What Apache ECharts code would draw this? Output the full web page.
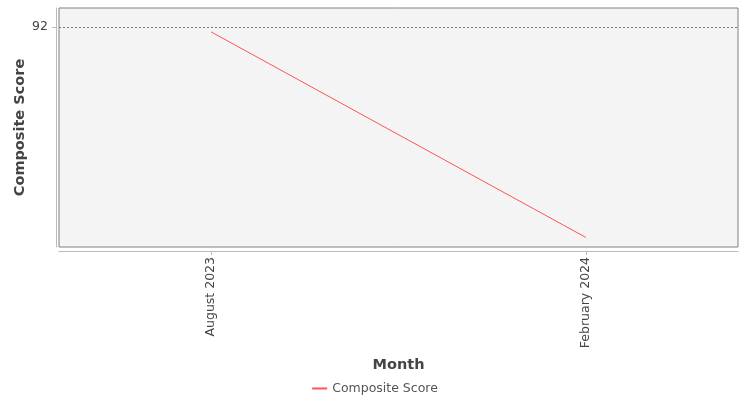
<!DOCTYPE html>
<html><head><meta charset="utf-8">
<script src="https://cdn.jsdelivr.net/npm/echarts@6/dist/echarts.min.js"></script>
<style>html,body{margin:0;padding:0;background:#fff}#c{width:750px;height:400px}</style>
</head><body><div id="c"></div>
<script>
const months = ["August 2023", "February 2024"];
const compositeScore = [91.98, 91.12];
const yTicks = [92];

const chart = echarts.init(document.getElementById('c'), null, {renderer: 'canvas'});
const font = "'DejaVu Sans', sans-serif";
chart.setOption({
  animation: false,
  textStyle: {fontFamily: font},
  grid: {left: 59, right: 12, top: 8, bottom: 153, show: true, backgroundColor: '#f4f4f4', borderColor: '#808080', borderWidth: 1, containLabel: false, outerBoundsMode: 'none'},
  legend: {bottom: 0, left: 'center', itemWidth: 15, itemHeight: 2, icon: 'rect', itemGap: 5,
    textStyle: {color: '#555', fontSize: 12.5, fontFamily: font}, data: ['Composite Score']},
  xAxis: {
    type: 'value', min: -0.406, max: 1.406, offset: 4,
    name: 'Month', nameLocation: 'middle', nameGap: 107,
    nameTextStyle: {fontSize: 14.5, fontWeight: 'bold', color: '#444', fontFamily: font},
    axisLine: {show: true, onZero: false, lineStyle: {color: '#bbb'}},
    axisTick: {show: true, length: 4, lineStyle: {color: '#bbb'}, customValues: [0, 1]},
    axisLabel: {customValues: [0, 1], rotate: 90, color: '#444', fontSize: 12.5, margin: 6, fontFamily: font,
      formatter: v => months[Math.round(v)] || ''},
    splitLine: {show: false}
  },
  yAxis: {
    type: 'value', min: 91.08, max: 92.08, offset: 3,
    name: 'Composite Score', nameLocation: 'middle', nameGap: 28, nameRotate: 90, nameMoveOverlap: false,
    nameTextStyle: {fontSize: 14.5, fontWeight: 'bold', color: '#444', fontFamily: font},
    axisLine: {show: true, onZero: false, lineStyle: {color: '#bbb'}},
    axisTick: {show: true, length: 4, lineStyle: {color: '#bbb'}, customValues: yTicks},
    axisLabel: {customValues: yTicks, color: '#444', fontSize: 12.5, margin: 8, fontFamily: font},
    splitLine: {show: true, lineStyle: {color: '#777', type: [2, 2], width: 1}}
  },
  series: [{
    name: 'Composite Score', type: 'line', symbol: 'none',
    lineStyle: {color: '#ff5555', width: 1}, itemStyle: {color: '#ff5555'},
    data: compositeScore.map((v, i) => [i, v])
  }]
});
</script></body></html>
